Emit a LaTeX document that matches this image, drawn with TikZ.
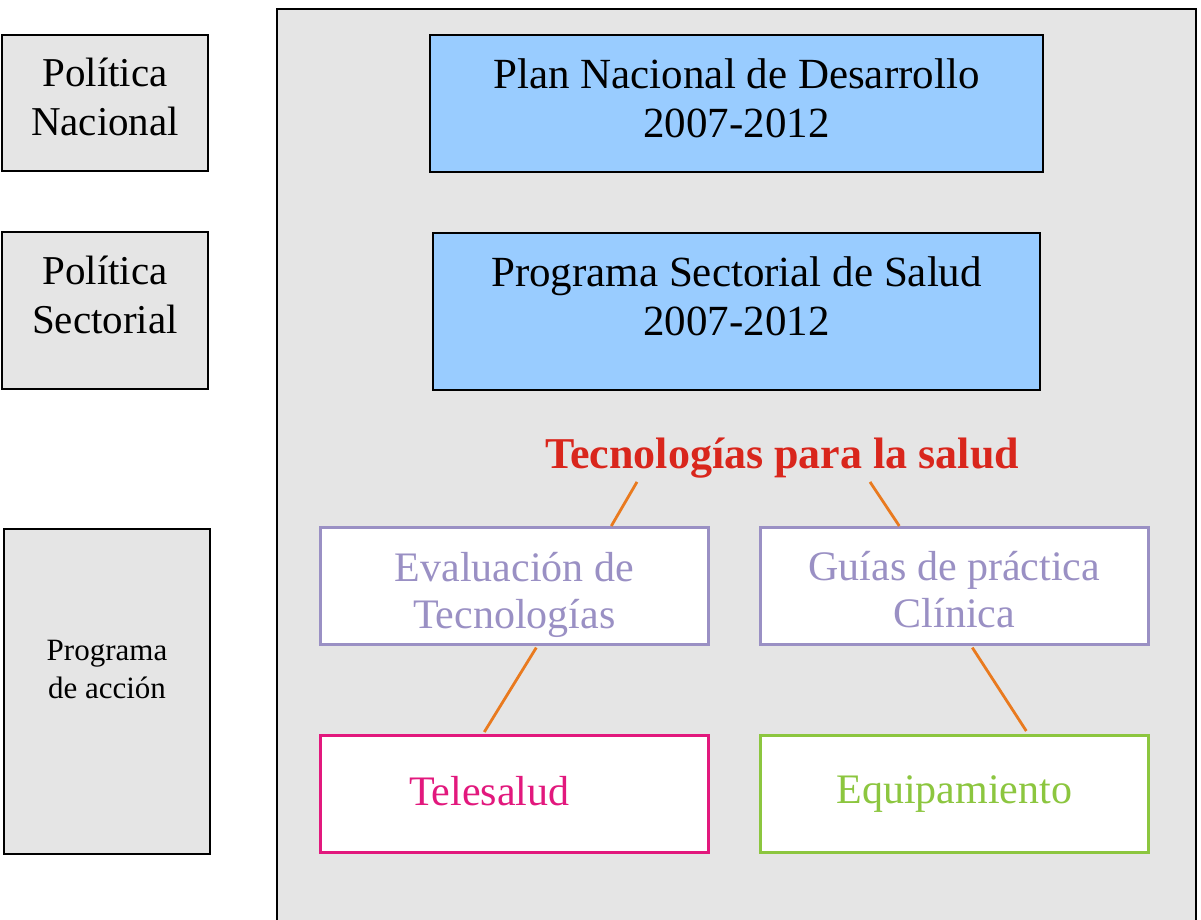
\documentclass[tikz,border=0pt]{standalone}
\usepackage{fontspec}
\setmainfont{Liberation Serif}
\definecolor{bgray}{HTML}{E5E5E5}
\definecolor{blu}{HTML}{99CCFF}
\definecolor{purp}{HTML}{9A90C4}
\definecolor{mag}{HTML}{E2187D}
\definecolor{grn}{HTML}{8CC63F}
\definecolor{org}{HTML}{E97A1F}
\definecolor{titred}{HTML}{D9261C}
\begin{document}
\begin{tikzpicture}[x=1pt,y=-1pt,
  graybox/.style={draw=black, fill=bgray, line width=2pt, anchor=north west, inner sep=0pt},
  bluebox/.style={draw=black, fill=blu, line width=2pt, anchor=north west, inner sep=0pt},
  whitebox/.style={fill=white, line width=2.6pt, anchor=north west, inner sep=0pt,
     minimum width=388, minimum height=117},
  lbl/.style={inner sep=0pt, align=center},
  conn/.style={draw=org, line width=2.8pt}]
\useasboundingbox (0,0) rectangle (1201,920);
\fill[white] (0,0) rectangle (1201,920);
% main panel
\fill[bgray] (277,9) rectangle (1196,925);
\draw[line width=2pt] (277,925) -- (277,9) -- (1196,9) -- (1196,925);
% left column
\node[graybox, minimum width=206, minimum height=136] (pn) at (1,34) {};
\node[lbl, font=\fontsize{41}{49}\selectfont] (pnt) at ([yshift=6pt]pn.center) {Política\\Nacional};
\node[graybox, minimum width=206, minimum height=157] (ps) at (1,231) {};
\node[lbl, font=\fontsize{41}{49}\selectfont] (pst) at ([yshift=16pt]ps.center) {Política\\Sectorial};
\node[graybox, minimum width=206, minimum height=325] (pa) at (3,528) {};
\node[lbl, font=\fontsize{31}{38}\selectfont] (pat) at ([yshift=22pt]pa.center) {Programa\\de acción};
% blue boxes
\node[bluebox, minimum width=613, minimum height=137] (pnd) at (429,34) {};
\node[lbl, font=\fontsize{43}{49}\selectfont] (pndt) at ([yshift=5pt]pnd.center) {Plan Nacional de Desarrollo\\2007-2012};
\node[bluebox, minimum width=607, minimum height=157] (pss) at (432,232) {};
\node[lbl, font=\fontsize{43}{49}\selectfont] (psst) at ([yshift=15pt]pss.center) {Programa Sectorial de Salud\\2007-2012};
% title
\node[anchor=base, text=titred, font=\fontsize{44}{50}\selectfont\bfseries, inner sep=0pt] (tit) at (782,468) {Tecnologías para la salud};
% white boxes
\node[whitebox, draw=purp] (ev) at (319,526) {};
\node[lbl, text=purp, font=\fontsize{42}{47}\selectfont] (evt) at ([yshift=-9pt]ev.center) {Evaluación de\\Tecnologías};
\node[whitebox, draw=purp] (gp) at (759,526) {};
\node[lbl, text=purp, font=\fontsize{42}{47}\selectfont] (gpt) at ([yshift=-4pt]gp.center) {Guías de práctica\\Clínica};
\node[whitebox, draw=mag] (tel) at (319,734) {};
\node[lbl, text=mag, font=\fontsize{42}{47}\selectfont] (telt) at ([xshift=-25pt,yshift=3pt]tel.center) {Telesalud};
\node[whitebox, draw=grn] (eq) at (759,734) {};
\node[lbl, text=grn, font=\fontsize{42}{47}\selectfont] (eqt) at (eq.center) {Equipamiento};
% connectors
\draw[conn] ([xshift=-145pt,yshift=-4pt]tit.south) -- ([xshift=97pt]ev.north);
\draw[conn] ([xshift=88pt,yshift=-4pt]tit.south) -- ([xshift=-55pt]gp.north);
\draw[conn] ([xshift=22pt,yshift=-2pt]ev.south) -- ([xshift=-30pt,yshift=2pt]tel.north);
\draw[conn] ([xshift=18pt,yshift=-2pt]gp.south) -- ([xshift=72pt,yshift=3pt]eq.north);
\end{tikzpicture}
\end{document}
